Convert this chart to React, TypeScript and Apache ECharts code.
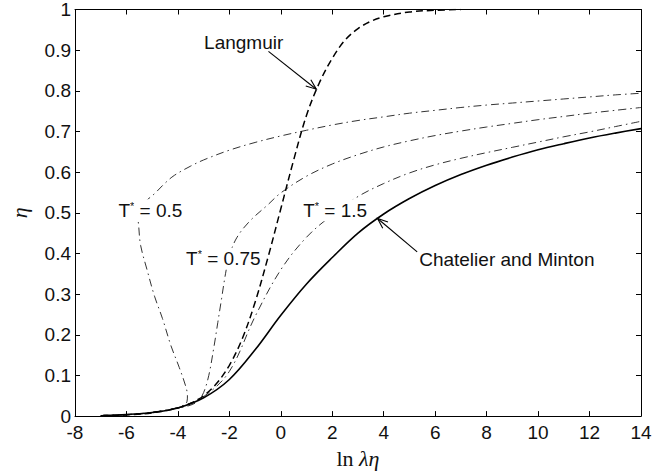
import React, { useEffect, useRef } from "react";
import * as echarts from "echarts";

// ---- data ----
const xMin = -8;
const xMax = 14;
const xStep = 2;
const yMin = 0;
const yMax = 1;
const yStep = 0.1;

// Chatelier and Minton (solid)
const cmX = [-6.9, -6, -5, -4, -3, -2, -1, 0, 1, 2, 3, 4, 5, 6, 7, 8, 9, 10, 11, 12, 13, 14];
const cmY = [0.002, 0.004, 0.009, 0.02, 0.045, 0.09, 0.163, 0.248, 0.325, 0.39, 0.45, 0.497, 0.535, 0.567, 0.594, 0.617, 0.637, 0.655, 0.67, 0.684, 0.696, 0.707];

// Langmuir (dashed)
const lgX = [-7, -6, -5, -4, -3.5, -3, -2.5, -2, -1.5, -1, -0.5, 0, 0.5, 1, 1.5, 2, 2.5, 3, 3.5, 4, 5, 6, 7];
const lgY = [0.001, 0.003, 0.008, 0.02, 0.032, 0.05, 0.08, 0.125, 0.19, 0.28, 0.39, 0.51, 0.63, 0.74, 0.82, 0.88, 0.925, 0.953, 0.971, 0.982, 0.994, 0.998, 1.0];

// T* = 0.5 (dash-dot, S-shaped loop)
const t05X = [-7, -6, -5, -4.2, -3.8, -3.65, -3.63, -3.69, -3.95, -4.27, -4.6, -4.91, -5.2, -5.45, -5.52, -5.56, -5.5, -5.3, -4.91, -4.5, -4.14, -3.5, -3, -2, -1, 0, 1, 2, 3, 4, 5, 6, 7, 8, 9, 10, 11, 12, 13, 14];
const t05Y = [0.001, 0.003, 0.009, 0.018, 0.026, 0.035, 0.05, 0.072, 0.12, 0.173, 0.24, 0.295, 0.36, 0.42, 0.464, 0.5, 0.512, 0.526, 0.547, 0.573, 0.592, 0.615, 0.63, 0.654, 0.673, 0.689, 0.703, 0.716, 0.727, 0.736, 0.745, 0.752, 0.759, 0.765, 0.77, 0.775, 0.78, 0.785, 0.79, 0.794];

// T* = 0.75 (dash-dot)
const t075X = [-7, -6, -5, -4, -3.5, -3.2, -3.0, -2.8, -2.6, -2.45, -2.3, -2.15, -2.0, -1.7, -1.2, -0.5, 0, 1, 2, 3, 4, 5, 6, 7, 8, 9, 10, 11, 12, 13, 14];
const t075Y = [0.001, 0.004, 0.009, 0.02, 0.027, 0.038, 0.058, 0.1, 0.17, 0.23, 0.29, 0.35, 0.395, 0.44, 0.48, 0.52, 0.549, 0.59, 0.62, 0.643, 0.662, 0.677, 0.69, 0.701, 0.711, 0.72, 0.729, 0.737, 0.745, 0.752, 0.759];

// T* = 1.5 (dash-dot)
const t15X = [-7, -6, -5, -4, -3, -2, -1, 0, 1, 2, 3, 4, 5, 6, 7, 8, 9, 10, 11, 12, 13, 14];
const t15Y = [0.001, 0.003, 0.009, 0.021, 0.048, 0.11, 0.245, 0.36, 0.44, 0.495, 0.54, 0.572, 0.598, 0.618, 0.634, 0.648, 0.661, 0.674, 0.687, 0.699, 0.712, 0.725];

// annotation anchors (data coordinates)
const langmuirText = { x: -3.06, y: 0.92, label: "Langmuir" };
const langmuirArrow = { from: [-0.48, 0.897], to: [1.38, 0.804] };
const cmText = { x: 5.3, y: 0.385, label: "Chatelier and Minton" };
const cmArrow = { from: [5.3, 0.404], to: [3.76, 0.486] };
const tLabels = [
  { x: -6.39, y: 0.506, value: "0.5" },
  { x: -3.76, y: 0.387, value: "0.75" },
  { x: 0.79, y: 0.506, value: "1.5" },
];

const zip = (xs: number[], ys: number[]) => xs.map((x, i) => [x, ys[i]]);

const SANS = "'Liberation Sans', Arial, Helvetica, sans-serif";
const SERIF = "'Liberation Serif', 'Times New Roman', serif";

export default function App() {
  const ref = useRef<HTMLDivElement>(null);

  useEffect(() => {
    if (!ref.current) return;
    const chart = echarts.init(ref.current, undefined, { renderer: "svg" });

    const dashDot = [8, 4, 1.5, 4];
    const common = {
      type: "line" as const,
      showSymbol: false,
      symbol: "none",
      smooth: 0.35,
      xAxisIndex: 0,
      yAxisIndex: 0,
      silent: true,
    };

    const axisCommon = {
      type: "value" as const,
      splitLine: { show: false },
      axisLine: { show: true, onZero: false, lineStyle: { color: "#000", width: 1 } },
      axisTick: { show: true, inside: true, length: 5, lineStyle: { color: "#000" } },
    };

    chart.setOption({
      animation: false,
      backgroundColor: "#fff",
      grid: { left: 70, right: 30, top: 9, bottom: 52.5, containLabel: false },
      xAxis: [
        {
          ...axisCommon,
          position: "bottom",
          min: xMin,
          max: xMax,
          interval: xStep,
          axisLabel: { color: "#111", fontSize: 19, fontFamily: SANS, margin: 7 },
          name: "{r|ln }{i|λη}",
          nameLocation: "middle",
          nameGap: 22,
          nameTextStyle: {
            rich: {
              r: { fontFamily: SERIF, fontSize: 22, color: "#111" },
              i: { fontFamily: SERIF, fontSize: 22, fontStyle: "italic", color: "#111" },
            },
          },
        },
        {
          ...axisCommon,
          position: "top",
          min: xMin,
          max: xMax,
          interval: xStep,
          axisLabel: { show: false },
        },
      ],
      yAxis: [
        {
          ...axisCommon,
          position: "left",
          min: yMin,
          max: yMax,
          interval: yStep,
          axisLabel: {
            color: "#111",
            fontSize: 19,
            fontFamily: SANS,
            margin: 4,
            formatter: (v: number) => String(+v.toFixed(1)),
          },
          name: "η",
          nameLocation: "middle",
          nameRotate: 90,
          nameGap: 45,
          nameTextStyle: { fontFamily: SERIF, fontSize: 22, fontStyle: "italic", color: "#111" },
        },
        {
          ...axisCommon,
          position: "right",
          min: yMin,
          max: yMax,
          interval: yStep,
          axisLabel: { show: false },
        },
      ],
      series: [
        { ...common, name: "Chatelier and Minton", data: zip(cmX, cmY), lineStyle: { color: "#000", width: 1.6, type: "solid" }, z: 5 },
        { ...common, name: "Langmuir", data: zip(lgX, lgY), lineStyle: { color: "#000", width: 1.5, type: [7, 4] }, z: 4 },
        { ...common, name: "T* = 0.5", data: zip(t05X, t05Y), lineStyle: { color: "#333", width: 1, type: dashDot }, z: 3 },
        { ...common, name: "T* = 0.75", data: zip(t075X, t075Y), lineStyle: { color: "#333", width: 1, type: dashDot }, z: 3 },
        { ...common, name: "T* = 1.5", data: zip(t15X, t15Y), lineStyle: { color: "#333", width: 1, type: dashDot }, z: 3 },
      ],
    });

    const px = (p: number[]) => chart.convertToPixel({ gridIndex: 0 }, p) as number[];

    const arrow = (from: number[], to: number[]) => {
      const a = px(from);
      const b = px(to);
      const ang = Math.atan2(a[1] - b[1], a[0] - b[0]);
      const L = 11;
      const spread = 0.38;
      const h1 = [b[0] + L * Math.cos(ang + spread), b[1] + L * Math.sin(ang + spread)];
      const h2 = [b[0] + L * Math.cos(ang - spread), b[1] + L * Math.sin(ang - spread)];
      const ls = { stroke: "#000", lineWidth: 1.1 };
      return [
        { type: "line", shape: { x1: a[0], y1: a[1], x2: b[0], y2: b[1] }, style: ls, z: 110 },
        { type: "polyline", shape: { points: [h1, b, h2] }, style: { ...ls, fill: "none" }, z: 110 },
      ];
    };

    const textAt = (x: number, y: number, text: string, rich?: any) => {
      const p = px([x, y]);
      return {
        type: "text",
        x: p[0],
        y: p[1],
        z: 100,
        style: {
          text,
          fill: "#111",
          font: `19px ${SANS}`,
          align: "left",
          verticalAlign: "middle",
          backgroundColor: "#fff",
          padding: [1, 2, 1, 2],
          rich,
        },
      };
    };

    const tRich = {
      t: { fontSize: 19, fontFamily: SANS, color: "#111", backgroundColor: "#fff" },
      s: { fontSize: 11, fontFamily: SANS, color: "#111", verticalAlign: "top", padding: [0, 0, 9, 0], backgroundColor: "#fff" },
    };

    chart.setOption({
      graphic: [
        textAt(langmuirText.x, langmuirText.y, langmuirText.label),
        ...arrow(langmuirArrow.from, langmuirArrow.to),
        textAt(cmText.x, cmText.y, cmText.label),
        ...arrow(cmArrow.from, cmArrow.to),
        ...tLabels.map((l) => textAt(l.x, l.y, `{t|T}{s|*}{t| = ${l.value}}`, tRich)),
      ],
    });

    return () => chart.dispose();
  }, []);

  return (
    <div
      ref={ref}
      style={{ position: "fixed", left: 0, top: 0, width: 671, height: 474, background: "#fff" }}
    />
  );
}
